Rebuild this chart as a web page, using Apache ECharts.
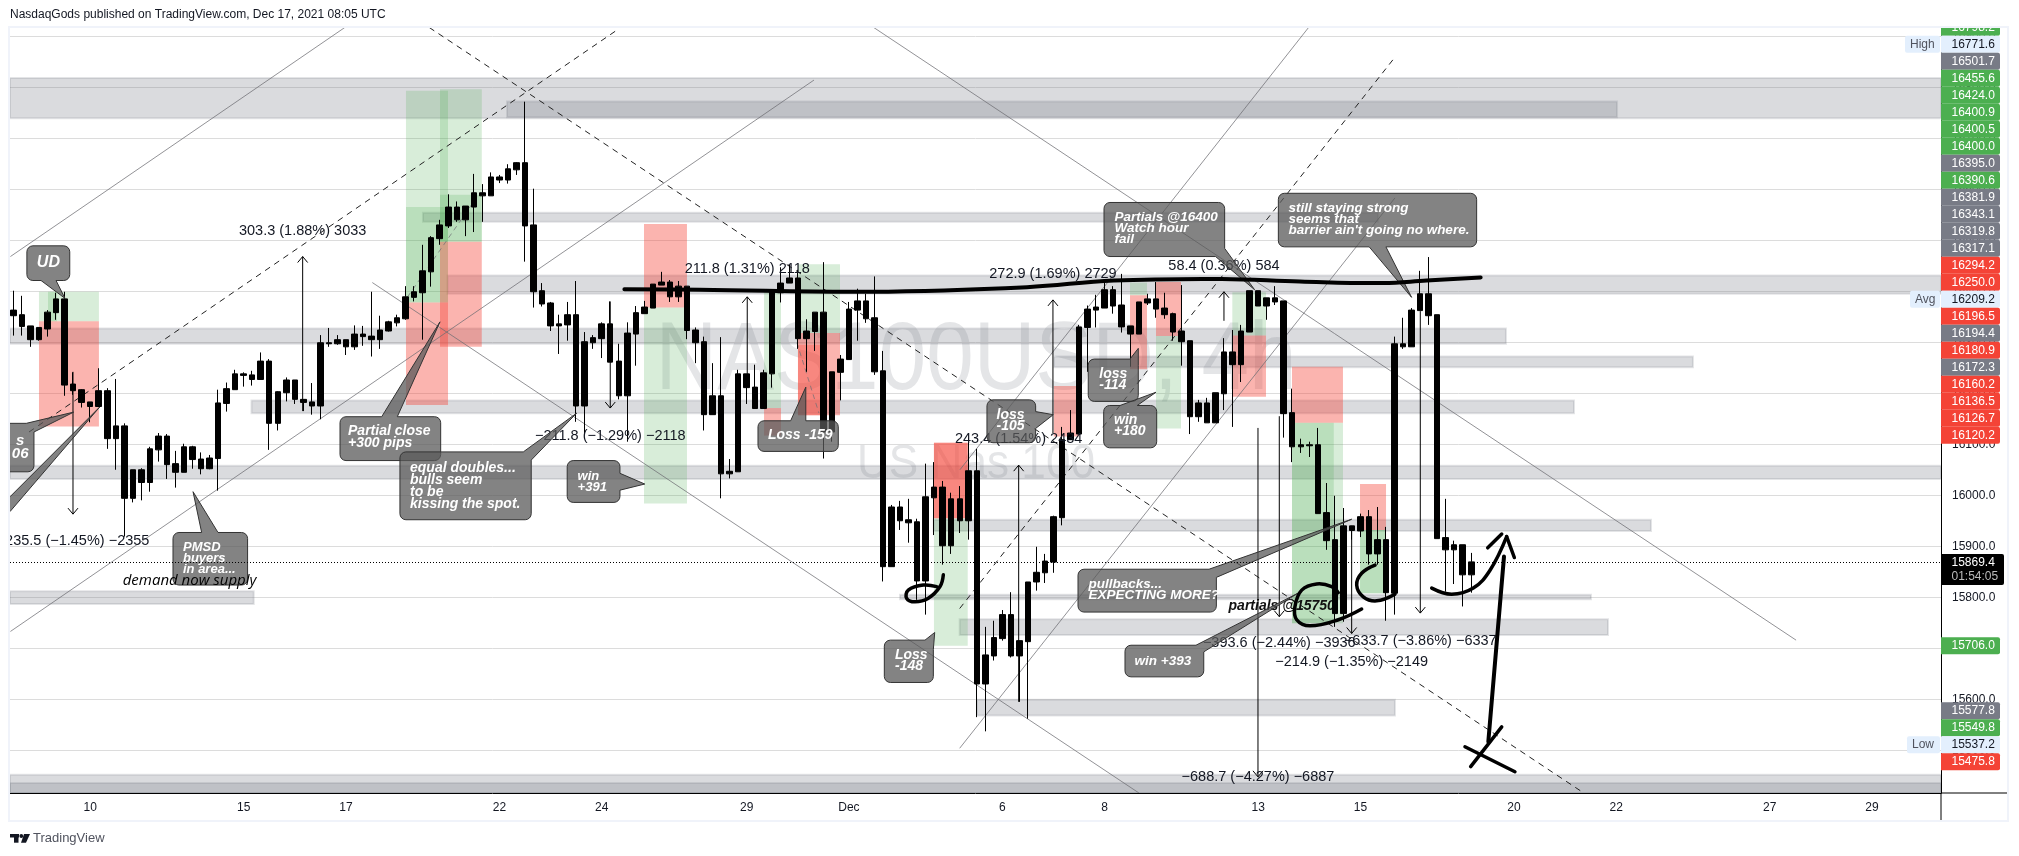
<!DOCTYPE html>
<html><head><meta charset="utf-8"><style>html,body{margin:0;background:#fff}#c{width:2019px;height:856px}</style>
<script src="https://cdn.jsdelivr.net/npm/echarts@6/dist/echarts.min.js"></script></head>
<body><div id="c"></div><script>
const bodyTops=[16363,16354,16332,16329,16359,16385,16385,16218,16207,16183,
16205,16205,16136,16136,16050,16050,16091,16116,16116,16062,
16095,16095,16071,16073,16181,16209,16238,16238,16236,16263,
16263,16203,16226,16226,16188,16183,16299,16299,16305,16305,
16316,16316,16312,16324,16340,16348,16389,16399,16440,16505,
16530,16565,16565,16567,16593,16593,16624,16624,16640,16652,
16652,16530,16401,16377,16336,16354,16354,16301,16309,16336,
16336,16263,16318,16358,16369,16414,16418,16418,16410,16410,
16324,16301,16195,16195,16047,16238,16238,16212,16240,16399,
16416,16426,16426,16322,16359,16359,16242,16267,16365,16381,
16381,16348,16244,15977,15977,15952,15948,15997,16016,16016,
15993,15993,16048,16048,15687,15721,15766,15766,15715,15830,
15849,15871,15958,16109,16122,16330,16365,16369,16403,16403,
16373,16332,16379,16385,16385,16367,16356,16322,16303,16181,
16181,16201,16281,16281,16322,16401,16401,16387,16387,16381,
16162,16099,16099,16099,15966,15913,15940,15940,15958,15958,
15913,15913,16297,16297,16363,16395,16395,16354,15917,15903,15903,15869.4];
const bodyBottoms=[16352,16331,16305,16305,16326,16358,16216,16205,16182,16174,
16174,16111,16111,15994,15994,16025,16025,16089,16060,16045,
16045,16070,16052,16052,16072,16180,16207,16235,16227,16227,
16141,16141,16201,16188,16182,16175,16175,16297,16297,16291,
16291,16311,16305,16305,16322,16338,16346,16388,16397,16438,
16503,16528,16540,16540,16565,16587,16587,16618,16618,16638,
16528,16399,16375,16332,16332,16334,16175,16175,16299,16307,
16261,16195,16195,16316,16356,16367,16412,16389,16389,16323,
16299,16158,16158,16042,16042,16046,16211,16170,16170,16238,
16397,16416,16307,16307,16321,16124,16124,16241,16266,16363,
16346,16242,15860,15860,15950,15946,15832,15832,15995,15901,
15901,15950,15950,15630,15630,15685,15719,15685,15685,15713,
15830,15848,15869,15956,16109,16120,16329,16363,16367,16371,
16330,16316,16316,16377,16365,16354,16320,16301,16154,16154,
16142,16142,16199,16256,16256,16320,16371,16371,16379,16160,
16095,16095,16097,15964,15911,15768,15768,15931,15930,15885,
15885,15809,15808,16291,16291,16362,16352,15915,15893,15893,15844,15844];
const highs=[16401,16391,16332,16329,16363,16397,16399,16241,16208,16183,
16249,16210,16228,16141,16050,16053,16095,16122,16120,16087,
16101,16097,16084,16079,16207,16221,16246,16241,16244,16280,
16267,16204,16231,16226,16188,16220,16314,16328,16314,16305,
16333,16332,16399,16352,16342,16354,16410,16410,16491,16508,
16540,16590,16576,16567,16630,16610,16633,16628,16649,16653,
16771.6,16601,16416,16379,16354,16379,16420,16320,16314,16339,
16380,16297,16339,16371,16381,16414,16438,16422,16420,16410,
16329,16311,16259,16310,16071,16246,16238,16256,16246,16403,
16447,16452,16442,16345,16359,16457,16242,16275,16379,16405,
16395,16429,16283,15981,15989,15993,15954,16062,16065,16028,
16005,16018,16113,16091,15742,15754,15775,15810,15715,15830,
15899,15885,15960,16134,16167,16334,16372,16393,16418,16410,
16434,16332,16379,16395,16418,16397,16358,16412,16303,16187,
16191,16201,16308,16324,16334,16401,16401,16387,16410,16381,
16209,16111,16105,16132,16024,15999,15975,15940,15964,15971,
15977,15938,16311,16348,16367,16440,16467,16354,15993,15911,15903,15887];
const lows=[16313,16313,16291,16303,16311,16344,16195,16197,16172,16143,
16174,16091,16050,15919,15986,15990,16007,16066,16032,16015,
16045,16052,16041,16051,16009,16164,16207,16213,16215,16227,
16089,16127,16184,16179,16165,16158,16149,16291,16295,16275,
16285,16293,16272,16287,16321,16331,16344,16380,16305,16409,
16491,16524,16536,16508,16516,16536,16587,16612,16611,16628,
16458,16368,16370,16322,16277,16303,16144,16118,16287,16269,
16261,16188,16105,16254,16356,16367,16412,16379,16379,16306,
16259,16127,16158,15994,16033,16046,16179,16170,16170,16211,
16378,16416,16287,16242,16283,16072,16105,16186,16266,16303,
16338,16236,15831,15860,15932,15907,15795,15766,15922,15864,
15885,15926,15913,15565,15537.2,15676,15715,15682,15595,15562,
15813,15828,15848,15941,16109,16120,16242,16329,16367,16356,
16319,16252,16316,16373,16348,16346,16303,16254,16120,16144,
16142,16142,16167,16134,16222,16320,16371,16344,16373,16113,
16065,16083,16075,15964,15893,15742,15752,15913,15918,15864,
15864,15754,15766,16287,16291,16362,16334,15915,15811,15826,15782,15809];
const lastPrice=15869.4;
const xMin=-0.41,xMax=226.1,yMin=15416.3,yMax=16918;
const xTickIndex=[9,27,39,57,69,86,98,116,128,146,158,176,188,206,218];
const xTickLabels=['10','15','17','22','24','29','Dec','6','8','13','15','20','22','27','29'];
const yTicks=[15500,15600,15700,15800,15900,16000,16100,16200,16300,16400,16500,16600,16700,16800,16900];

// [fromBar,toBar,topPrice,bottomPrice]
const zones=[[xMin,xMax,16818,16739],[57.89,188.1,16772,16741],[48.03,160.06,16554,16536],[50.91,xMax,16431,16395],
[xMin,175.07,16327,16297],[122.05,197,16272,16251],[27.92,183.05,16186,16161],[xMin,xMax,16058,16032],
[107.94,192.08,15952,15930],[103.99,185.04,15805,15796],[110.99,187.04,15757,15726],[113.02,162.05,15599,15568],
[xMin,xMax,15452,yMin],[xMin,xMax,15436,yMin],[xMin,28.18,15812,15787]];
const gainBoxes=[[2.99,10.02,16399,16341],[4.05,5.1,16399,16341],[46.04,50.97,16793,16378],[50.03,54.93,16796,16497],[46.04,50.97,16565,16378],[50.03,54.93,16589,16497],
[73.96,79,16368,15984],[88.04,90.03,16403,16171],[92.02,96.95,16453,16318],[107.97,111.93,15955,15705],[130.97,132.96,16417,16392],[134.02,136.95,16312,16131],
[142.97,146.92,16398,16313],[149.97,155.95,16142,15749],[149.97,154.87,16142,15749],[157.95,161,15932,15808],[157.95,161,15932,15808]];
const lossBoxes=[[2.99,10.02,16341,16135],[46.04,50.97,16378,16177],[50.03,54.93,16497,16291],[73.96,79,16532,16368],[88.04,90.03,16171,16117],[92.02,96.95,16318,16157],[92.02,94.7,16295,16157],
[107.97,111.93,16103,15955],[107.97,111.93,16103,15955],[122.03,125,16214,16115],[130.97,132.96,16392,16247],[134.02,136.95,16418,16312],[142.97,146.92,16313,16193],[149.97,155.95,16252,16142],[157.95,161,16022,15932]];
// [bar,price,bar,price]
const solidLines=[[-0.36,16468,38.86,16917],[-0.36,15733,93.9,16814],[42.09,16417,132.02,yMin],[100.82,yMax,209.1,15716],[111.02,16050,151.96,yMax],[110.99,15504,162.05,16583]];
const dashedLines=[[1.82,16124,70.79,16912],[48.77,16917,184.2,yMin],[110.99,15778,161.82,16854]];
const faintDashes=[[46.23,16389,54.37,16585],[91.9,16299,94.48,16161]];
// [bar,fromPrice,toPrice,labelPrice,label]
const measures=[[6.98,16242,15963,15911,'−235.5 (−1.45%) −2355'],[33.92,16165,16468,16519,'303.3 (1.88%) 3033'],[70,16380,16171,16116,'−211.8 (−1.29%) −2118'],
[86.07,16238,16389,16443,'211.8 (1.31%) 2118'],[121.93,16122,16383,16434,'272.9 (1.69%) 2729'],[117.91,15595,16059,16110,'243.4 (1.54%) 2434'],
[141.99,16342,16399,16450,'58.4 (0.36%) 584'],[145.98,16132,15448,15448,'−688.7 (−4.27%) −6887'],[148.48,16155,15762,15711,'−393.6 (−2.44%) −3936'],
[165.02,16361,15769,15714,'−633.7 (−3.86%) −6337'],[156.97,15940,15729,15674,'−214.9 (−1.35%) −2149']];
// box[x0,topPrice,x1,bottomPrice], tip, base a, base b, text bar, first line price, line gap, font size, lines
const notes=[
[[1.57,16489,6.6,16421],[6.04,16386],[3.23,16421],[4.99,16421],2.74,16457,0,16,['UD']],
[[-3,16141,2.4,16046],[7.06,16163],[1.5,16141],[2.4,16124],-0.2,16107,13,15,[' s','06']],
[[-20,16000,-0.41,15960],[10.11,16173],[-0.41,15997],[-0.41,15968],0,0,0,13,[]],
[[38.3,16154,50.11,16068],[50.03,16340],[43.19,16154],[45.02,16154],39.24,16125,12,14,['Partial close','+300 pips']],
[[45.33,16085,60.73,15952],[66.06,16161],[59.8,16085],[60.73,16069],46.51,16054,12,14,['equal doubles...','bulls seem','to be','kissing the spot.']],
[[64.95,16068,71.14,15986],[74.05,16022],[71.14,16043],[71.14,16010],66.17,16036,11,13,['win','+391']],
[[18.71,15927,27.46,15824],[21.06,16007],[22.07,15927],[23.99,15927],19.88,15898,11,13,['PMSD','buyers','in area...']],
[[87.33,16146,96.75,16086],[92.94,16212],[91.16,16146],[92.94,16146],88.5,16118,0,14,['Loss -159']],
[[114.19,16187,119.9,16103],[121.97,16158],[119.9,16164],[119.9,16131],115.32,16157,11,14,['loss','-105']],
[[126.07,16267,131.94,16184],[131.94,16288],[130.97,16267],[131.94,16254],127.37,16237,11,14,['loss','-114']],
[[127.88,16176,134.1,16093],[134.02,16202],[129.8,16176],[131.82,16176],129.09,16147,11,14,['win','+180']],
[[127.92,16574,142.07,16468],[145.58,16403],[142.07,16484],[141.01,16468],129.15,16544,11,13.5,['Partials @16400','Watch hour','fail']],
[[148.37,16592,171.63,16487],[164,16388],[159.03,16487],[160.99,16487],149.55,16563,11,13.5,['still staying strong','seems that','barrier ain\'t going no where.']],
[[124.87,15855,141.1,15771],[156.97,15953],[140.24,15855],[141.1,15839],126.1,15826,11,13.5,['pullbacks...','EXPECTING MORE?']],
[[130.38,15706,139.62,15644],[150.67,15808],[138.71,15706],[139.62,15693],131.5,15675,0,13.5,['win +393']],
[[102.15,15716,107.9,15633],[108.06,15731],[106.92,15716],[107.9,15698],103.4,15687,11,14,['Loss','-148']]];
const belowCandleNotes=[[142.53,15782,'partials @15750','italic bold 14px "Liberation Sans"']];
const overNotes=[[12.81,15832,'demand now supply','italic 15px "Open Sans"']];
const strokes=[
[4,[[71.66,16404],[80.5,16403],[100.57,16399],[118.88,16408],[129.05,16421],[141.75,16424],[150.9,16419],[160.64,16416],[165.77,16421],[172.1,16427]]],
[3.5,[[109.07,15844],[108.68,15821],[107.31,15798],[105.75,15791],[104.77,15798],[104.96,15814],[106.72,15824],[108.29,15821]]],
[3.5,[[158.14,15777],[155.41,15756],[152.08,15744],[150.52,15756],[150.32,15782],[151.11,15814],[152.87,15826],[154.63,15821],[155.4,15809]]],
[3.5,[[159.71,15863],[158.14,15847],[157.56,15824],[158.33,15801],[159.9,15793],[162.05,15806]]],
[3.5,[[166.36,15818],[168.7,15806],[171.24,15818],[173.2,15853],[175.15,15919]]],
[3.5,[[174.57,15924],[172.93,15897]]],[3.5,[[175.15,15919],[176.05,15878]]],
[4,[[174.84,15880],[173,15517]]],[3.5,[[170.26,15507],[176.12,15458]]],[3.5,[[174.57,15546],[170.93,15468]]]];
const ladderLabels=['16798.2','16771.6','16501.7','16455.6','16424.0','16400.9','16400.5','16400.0','16395.0','16390.6','16381.9','16343.1','16319.8','16317.1','16294.2','16250.0','16209.2','16196.5','16194.4','16180.9','16172.3','16160.2','16136.5','16126.7','16120.2'];
const ladderKinds='glxgggggxgxxxxrrlrxrxrrrr'.split('');
const lowerLabels=['15706.0','15577.8','15549.8','15537.2','15475.8'];
const lowerKinds='gxglr'.split('');
const lowerRows=[645.7,710.7,727.7,744.7,761.7];

const F='"Liberation Sans",Arial,sans-serif';
const BADGE={g:'#4caf50',r:'#f44336',x:'#787b86',l:'#e3effd'};
function layer(items,z,draw){return {type:'custom',coordinateSystem:'cartesian2d',clip:true,z,silent:true,animation:false,
  data:items.map(()=>[0,16000]),encode:{x:0,y:1},renderItem:(p,api)=>draw(items[p.dataIndex],api)};}
const box=(api,d,fill,stroke)=>{const a=api.coord([d[0],d[2]]),b=api.coord([d[1],d[3]]);
  return {type:'rect',shape:{x:a[0],y:a[1],width:b[0]-a[0],height:b[1]-a[1]},style:{fill,stroke,lineWidth:stroke?2:0}};};
const seg=(api,d,style)=>{const a=api.coord([d[0],d[1]]),b=api.coord([d[2],d[3]]);
  return {type:'line',shape:{x1:a[0],y1:a[1],x2:b[0],y2:b[1]},style};};
function notePoints(x0,y0,x1,y1,tip,a,b){
  const w=x1-x0,h=y1-y0,P=2*(w+h),r=6;
  const tOf=q=>{const d=[Math.abs(q[1]-y0),Math.abs(q[0]-x1),Math.abs(q[1]-y1),Math.abs(q[0]-x0)];const m=d.indexOf(Math.min(...d));
    return m==0?q[0]-x0:m==1?w+q[1]-y0:m==2?w+h+x1-q[0]:2*w+h+y1-q[1];};
  const rim=[];const arc=(cx,cy,s,t0)=>{for(let k=0;k<=4;k++){const an=s+k*Math.PI/8;rim.push([cx+r*Math.cos(an),cy+r*Math.sin(an),(t0+k*r/2+P)%P]);}};
  arc(x1-r,y0+r,-Math.PI/2,w-r);arc(x1-r,y1-r,0,w+h-r);arc(x0+r,y1-r,Math.PI/2,w+h+w-r);arc(x0+r,y0+r,Math.PI,P-r);
  let ta=tOf(a),tb=tOf(b),A=a,B=b;if(((tb-ta+P)%P)>P/2){[ta,tb]=[tb,ta];[A,B]=[B,A];}
  const span=(tb-ta+P)%P;
  const keep=rim.filter(q=>((q[2]-ta+P)%P)>span).sort((u,v)=>((u[2]-tb+P)%P)-((v[2]-tb+P)%P));
  return [A,tip,B,...keep.map(q=>[q[0],q[1]])];
}
const plainText=(d,api,fill)=>{const a=api.coord([d[0],d[1]]);return {type:'text',style:{x:a[0],y:a[1],text:d[2],verticalAlign:'middle',fill,font:d[3]}};};
const candles=bodyTops.map((t,i)=>[i,bodyBottoms[i],t,lows[i],highs[i]]);
const opt={animation:false,
 grid:{left:10,top:27,width:1931,height:766,containLabel:false},
 xAxis:{type:'value',min:xMin,max:xMax,splitLine:{show:false},axisLine:{show:true,onZero:false,lineStyle:{color:'#000',width:1}},
  axisTick:{show:false,customValues:xTickIndex},
  axisLabel:{customValues:xTickIndex,margin:9,color:'#131722',fontSize:12,fontFamily:F,formatter:v=>xTickLabels[xTickIndex.indexOf(v)]||''}},
 yAxis:{type:'value',position:'right',min:yMin,max:yMax,
  splitLine:{show:true,lineStyle:{color:'#dcdcdc',width:1}},
  axisLine:{show:true,onZero:false,lineStyle:{color:'#000',width:1}},axisTick:{show:false,customValues:yTicks},
  axisLabel:{customValues:yTicks,margin:11,color:'#131722',fontSize:12,fontFamily:F,formatter:v=>v.toFixed(1)}},
 series:[
  layer(zones,1,(d,api)=>box(api,d,'rgba(120,123,134,0.27)','rgba(120,123,134,0.2)')),
  layer(gainBoxes,1.1,(d,api)=>box(api,d,'rgba(76,175,80,0.22)')),
  layer(lossBoxes,1.2,(d,api)=>box(api,d,'rgba(244,67,54,0.4)')),
  layer(solidLines,1.5,(d,api)=>seg(api,d,{stroke:'rgba(110,110,115,0.75)',lineWidth:1})),
  layer(dashedLines,1.5,(d,api)=>seg(api,d,{stroke:'#222',lineWidth:1,lineDash:[6,5]})),
  layer(faintDashes,1.5,(d,api)=>seg(api,d,{stroke:'rgba(110,110,115,0.7)',lineWidth:1,lineDash:[5,4]})),
  layer(belowCandleNotes,2,(d,api)=>plainText(d,api,'#111')),
  {type:'candlestick',z:3,barWidth:6,silent:true,animation:false,encode:{x:0,y:[1,2,3,4]},data:candles,large:false,progressive:0,
   itemStyle:{color:'#000',color0:'#000',borderColor:'#000',borderColor0:'#000',borderColorDoji:'#000',borderWidth:1},
   markLine:{silent:true,symbol:'none',animation:false,label:{show:false},lineStyle:{color:'#000',type:[1,2],width:1},data:[{yAxis:lastPrice}]}},
  layer(measures,3.5,(d,api)=>{const a=api.coord([d[0],d[1]]),b=api.coord([d[0],d[2]]),c=api.coord([d[0],d[3]]),s=b[1]>a[1]?-6:6;
    return {type:'group',children:[
     {type:'line',shape:{x1:a[0],y1:a[1],x2:b[0],y2:b[1]},style:{stroke:'#000',lineWidth:1}},
     {type:'polyline',shape:{points:[[b[0]-5,b[1]+s],[b[0],b[1]],[b[0]+5,b[1]+s]]},style:{stroke:'#000',lineWidth:1,fill:null}},
     {type:'text',style:{x:c[0],y:c[1],text:d[4],align:'center',verticalAlign:'middle',fill:'#131722',font:'14.5px '+F}}]};}),
  layer(notes,4,(d,api)=>{const a=api.coord([d[0][0],d[0][1]]),b=api.coord([d[0][2],d[0][3]]);
    const pts=notePoints(a[0],a[1],b[0],b[1],api.coord(d[1]),api.coord(d[2]),api.coord(d[3]));
    const t=api.coord([d[4],d[5]]);
    return {type:'group',children:[{type:'polygon',shape:{points:pts},style:{fill:'rgba(90,90,90,0.75)',stroke:'#333',lineWidth:1}},
     ...d[8].map((s,k)=>({type:'text',style:{x:t[0],y:t[1]+k*d[6],text:s,verticalAlign:'middle',fill:'#fff',font:'italic bold '+d[7]+'px '+F}}))]};}),
  layer(overNotes,4.5,(d,api)=>plainText(d,api,'#000')),
  layer(strokes,5,(d,api)=>({type:'polyline',shape:{points:d[1].map(q=>api.coord(q)),smooth:d[1].length>2?0.4:0},style:{stroke:'#000',lineWidth:d[0],fill:null,lineCap:'round',lineJoin:'round'}}))
 ],
 graphic:{elements:[]}
};
const gfx=[];
const L=1941,W=59,CX=1951.5,Zb=40;
function badge(y,txt,k){gfx.push({type:'rect',z:Zb,shape:{x:L,y:y-8.5,width:W,height:17,r:[0,2,2,0]},style:{fill:BADGE[k]}},
  {type:'text',z:Zb+1,style:{x:CX,y:y,text:txt,verticalAlign:'middle',fill:k=='l'?'#131722':'#fff',font:'12px '+F}});}
ladderLabels.forEach((t,i)=>badge(27.3+17*i,t,ladderKinds[i]));
lowerLabels.forEach((t,i)=>badge(lowerRows[i],t,lowerKinds[i]));
[['High',44.3,1905],['Avg',299.3,1910],['Low',744.7,1907]].forEach(([t,y,x])=>{
  gfx.push({type:'rect',z:Zb,shape:{x,y:y-8.5,width:1940-x,height:17,r:2},style:{fill:'#e3effd'}},
  {type:'text',z:Zb+1,style:{x:x+5,y,text:t,verticalAlign:'middle',fill:'#50535e',font:'12px '+F}});});
gfx.push({type:'rect',z:Zb,shape:{x:L,y:554,width:63,height:31,r:[0,2,2,0]},style:{fill:'#000'}},
 {type:'text',z:Zb+1,style:{x:CX,y:562.5,text:'15869.4',verticalAlign:'middle',fill:'#fff',font:'12px '+F}},
 {type:'text',z:Zb+1,style:{x:CX,y:576.5,text:'01:54:05',verticalAlign:'middle',fill:'#bbb',font:'12px '+F}});
gfx.push({type:'text',z:0,x:976,y:363,scaleX:0.89,style:{x:0,y:0,text:'NAS100USD, 4h',align:'center',verticalAlign:'middle',fill:'rgba(120,123,134,0.2)',font:'96px '+F}},
 {type:'text',z:0,x:976,y:465,scaleX:0.92,style:{x:0,y:0,text:'US Nas 100',align:'center',verticalAlign:'middle',fill:'rgba(120,123,134,0.2)',font:'48px '+F}});
gfx.push({type:'rect',z:50,shape:{x:0,y:0,width:2019,height:26},style:{fill:'#fff'}},
 {type:'rect',z:51,shape:{x:9,y:27,width:1999,height:794},style:{fill:null,stroke:'#f0f3fa',lineWidth:2}},
 {type:'line',z:30,shape:{x1:1941,y1:793,x2:2007,y2:793},style:{stroke:'#000',lineWidth:1}},
 {type:'line',z:30,shape:{x1:1941,y1:793,x2:1941,y2:820},style:{stroke:'#000',lineWidth:1}},
 {type:'text',z:52,style:{x:10,y:14.5,text:'NasdaqGods published on TradingView.com, Dec 17, 2021 08:05 UTC',verticalAlign:'middle',fill:'#131722',font:'12px '+F}},
 {type:'rect',z:52,shape:{x:10,y:834,width:9,height:3.5},style:{fill:'#131722'}},
 {type:'rect',z:52,shape:{x:14,y:834,width:4.5,height:8.7},style:{fill:'#131722'}},
 {type:'circle',z:52,shape:{cx:21.3,cy:836,r:1.9},style:{fill:'#131722'}},
 {type:'polygon',z:52,shape:{points:[[24,834],[30,834],[26,842.7],[21,842.7]]},style:{fill:'#131722'}},
 {type:'text',z:52,style:{x:33,y:838.5,text:'TradingView',verticalAlign:'middle',fill:'#50535e',font:'13px '+F}});
opt.graphic.elements=gfx;
echarts.init(document.getElementById('c'),null,{renderer:'canvas'}).setOption(opt);
</script></body></html>
